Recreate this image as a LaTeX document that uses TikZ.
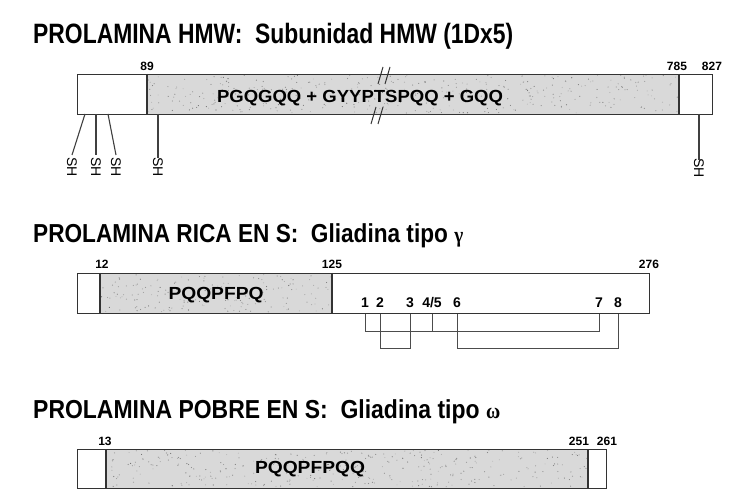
\documentclass[tikz,border=0pt]{standalone}
\usepackage{fontspec}
\setmainfont{Liberation Sans}
\newfontfamily\serifgr{Liberation Serif}
\usepackage{graphicx}
\newcommand{\speckle}[5]{%
  \foreach \k in {1,...,#5}{%
    \pgfmathsetmacro{\px}{#1+rnd*(#3-#1)}%
    \pgfmathsetmacro{\py}{#2+rnd*(#4-#2)}%
    \pgfmathsetmacro{\pg}{25+rnd*35}%
    \fill[black!\pg] (\px,\py) circle (0.55pt);
  }}
\begin{document}
\begin{tikzpicture}[x=1pt,y=-1pt,
  title/.style={anchor=base west, inner sep=0pt, font=\bfseries\fontsize{28}{32}\selectfont},
  num/.style={font=\bfseries\fontsize{12}{14}\selectfont, inner sep=0pt, anchor=base},
  seq/.style={font=\bfseries\fontsize{17.5}{20}\selectfont, inner sep=0pt},
  boxline/.style={draw=black!80, line width=1.3pt},
  protbox/.style={boxline, anchor=north west, inner sep=0pt},
  stip/.style={fill=black!15},
  link/.style={draw=black!70, line width=1pt},
  shlab/.style={font=\fontsize{14}{16}\selectfont, rotate=-90, anchor=west, inner sep=2pt},
  shline/.style={draw=black!75, line width=1.1pt},
  cys/.style={font=\bfseries\fontsize{14}{16}\selectfont, inner sep=0pt, anchor=base},
  brk/.style={draw=black!80, line width=1pt}]
\useasboundingbox (0,0) rectangle (744,494);
\fill[white] (0,0) rectangle (744,494);
\pgfmathsetseed{7}

% ---------- Section 1 ----------
\node[title] (t1) at (33,44) {\resizebox{480pt}{\height}{PROLAMINA HMW:\ \ Subunidad HMW (1Dx5)}};
\fill[stip] (147,74) rectangle (679,114);
\speckle{148}{75}{678}{113}{380}
\node[protbox, minimum width=635pt, minimum height=40pt] (box1) at (77,74) {};
\draw[boxline] (147,74) -- (147,114);
\draw[boxline] (679,74) -- (679,114);
\draw[brk] (378,84) -- (383,67) (385,84) -- (390,67);
\draw[brk] (371,124) -- (376,107) (378,124) -- (383,107);
\node[num] (n89) at (147,71) {89};
\node[num] (n785) at (677,71) {785};
\node[num] (n827) at (712,71) {827};
\node[seq] (seq1) at (360,98) {\resizebox{286pt}{\height}{PGQGQQ + GYYPTSPQQ + GQQ}};
\coordinate (s1) at (85,114);
\coordinate (s2) at (96,114);
\coordinate (s3) at (108,114);
\coordinate (s4) at (158,114);
\coordinate (s5) at (699,114);
\node[shlab] (sh1) at (72,155) {SH};
\node[shlab] (sh2) at (96,155) {SH};
\node[shlab] (sh3) at (116,155) {SH};
\node[shlab] (sh4) at (158,155) {SH};
\node[shlab] (sh5) at (699,156) {SH};
\draw[shline] (s1) -- (sh1.west);
\draw[shline] (s2) -- (sh2.west);
\draw[shline] (s3) -- (sh3.west);
\draw[shline] (s4) -- ([yshift=-3pt]sh4.west);
\draw[shline] (s5) -- ([yshift=-4pt]sh5.west);

% ---------- Section 2 ----------
\node[title] (t2) at (33,243) {\resizebox{430pt}{\height}{\fontsize{26}{30}\selectfont PROLAMINA RICA EN S:\ \ Gliadina tipo {\serifgr\bfseries\fontsize{22}{22}\selectfont γ}}};
\fill[stip] (100,273) rectangle (332,313);
\speckle{101}{274}{331}{312}{170}
\node[protbox, minimum width=572pt, minimum height=40pt] (box2) at (77,273) {};
\draw[boxline] (100,273) -- (100,313);
\draw[boxline] (332,273) -- (332,313);
\node[num] (n12) at (102,269) {12};
\node[num] (n125) at (332,269) {125};
\node[num] (n276) at (649,269) {276};
\node[seq] (seq2) at (216,295) {\resizebox{95pt}{\height}{PQQPFPQ}};
\node[cys] (c1) at (365,308) {1};
\node[cys] (c2) at (380,308) {2};
\node[cys] (c3) at (410,308) {3};
\node[cys] (c45) at (432,308) {4/5};
\node[cys] (c6) at (457,308) {6};
\node[cys] (c7) at (599,308) {7};
\node[cys] (c8) at (618,308) {8};
\coordinate (lvA) at (0,331);
\coordinate (lvB) at (0,348);
\draw[link] (c1 |- box2.south) -- (c1 |- lvA) -- (c7 |- lvA) -- (c7 |- box2.south);
\draw[link] (c45 |- box2.south) -- (c45 |- lvA);
\draw[link] (c2 |- box2.south) -- (c2 |- lvB) -- (c3 |- lvB) -- (c3 |- box2.south);
\draw[link] (c6 |- box2.south) -- (c6 |- lvB) -- (c8 |- lvB) -- (c8 |- box2.south);

% ---------- Section 3 ----------
\node[title] (t3) at (33,418) {\resizebox{467pt}{\height}{\fontsize{26}{30}\selectfont PROLAMINA POBRE EN S:\ \ Gliadina tipo {\serifgr\bfseries\fontsize{22}{22}\selectfont ω}}};
\fill[stip] (106,449) rectangle (588,488);
\speckle{107}{450}{587}{487}{340}
\node[protbox, minimum width=529pt, minimum height=39pt] (box3) at (77,449) {};
\draw[boxline] (106,449) -- (106,488);
\draw[boxline] (588,449) -- (588,488);
\node[num] (n13) at (105,445) {13};
\node[num] (n251) at (579,445) {251};
\node[num] (n261) at (607,445) {261};
\node[seq] (seq3) at (310,469) {\resizebox{110pt}{\height}{PQQPFPQQ}};
\end{tikzpicture}
\end{document}
